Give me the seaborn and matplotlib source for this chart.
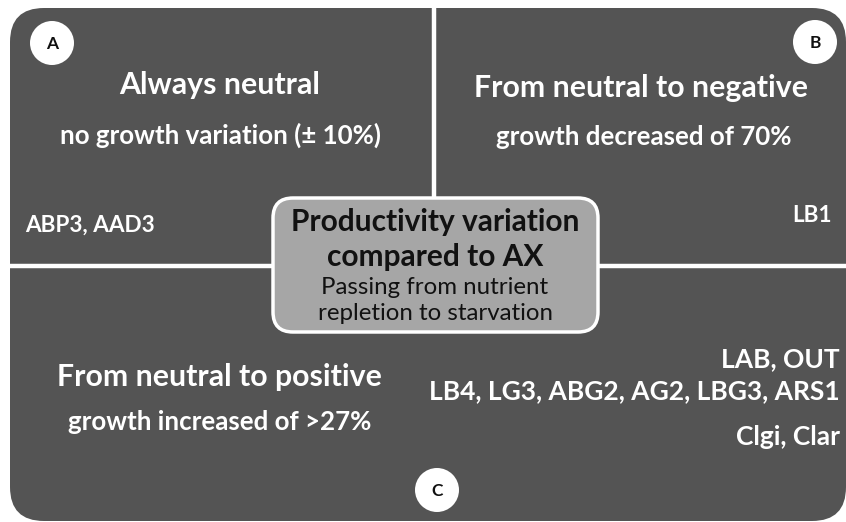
import matplotlib
matplotlib.use('Agg')
import matplotlib.pyplot as plt
from matplotlib.patches import FancyBboxPatch, Circle
import seaborn as sns

sns.set_theme(style='white')
plt.rcParams['font.family'] = ['Lato', 'DejaVu Sans']

# Quadrant content
panel_labels = ['A', 'B', 'C']
panel_titles = ['Always neutral', 'From neutral to negative', 'From neutral to positive']
panel_subtitles = ['no growth variation (\u00b1 10%)', 'growth decreased of 70%',
                   'growth increased of >27%']
strains_a = ['ABP3, AAD3']
strains_b = ['LB1']
strains_c = ['LAB, OUT', 'LB4, LG3, ABG2, AG2, LBG3, ARS1', 'Clgi, Clar']
center_title = ['Productivity variation', 'compared to AX']
center_sub = ['Passing from nutrient', 'repletion to starvation']

dark = '#545454'
grey = '#a6a6a6'

fig = plt.figure(figsize=(8.46, 5.22), dpi=100)
ax = fig.add_axes([0, 0, 1, 1])
ax.set_xlim(0, 846)
ax.set_ylim(522, 0)
ax.axis('off')

# background panel with rounded outer corners
ax.add_patch(FancyBboxPatch((10, 8), 836, 513, boxstyle='round,pad=0,rounding_size=34',
                            facecolor=dark, edgecolor='none', zorder=1))
# white separators
ax.plot([434, 434], [0, 266], color='white', lw=3.2, solid_capstyle='butt', zorder=2)
ax.plot([0, 846], [266, 266], color='white', lw=3.2, solid_capstyle='butt', zorder=2)

# central box
ax.add_patch(FancyBboxPatch((273, 198), 325, 134, boxstyle='round,pad=0,rounding_size=20',
                            facecolor=grey, edgecolor='white', lw=2.5, zorder=3))

# label circles
for lab, (cx, cy) in zip(panel_labels, [(52, 43), (815, 42), (437, 490)]):
    ax.add_patch(Circle((cx, cy), 22, facecolor='white', edgecolor='none', zorder=3))
    ax.text(cx, cy + 1, lab, ha='center', va='center', fontsize=12.5,
            fontweight='bold', color='#111111', zorder=4)

# titles and subtitles
title_pos = [(220, 85), (641, 88), (219, 377)]
sub_pos = [(221, 135), (644, 137), (220, 422)]
for t, s, tp, sp in zip(panel_titles, panel_subtitles, title_pos, sub_pos):
    ax.text(*tp, t, ha='center', va='center', fontsize=21.8, fontweight='bold',
            color='white', zorder=4)
    ax.text(*sp, s, ha='center', va='center', fontsize=18.6, fontweight='bold',
            color='white', zorder=4)

# strain lists
ax.text(25, 225, strains_a[0], ha='left', va='center', fontsize=16.2,
        fontweight='bold', color='white', zorder=4)
ax.text(832, 216, strains_b[0], ha='right', va='center', fontsize=16.2,
        fontweight='bold', color='white', zorder=4)
for line, y in zip(strains_c, [359, 391, 437]):
    ax.text(840, y, line, ha='right', va='center', fontsize=19,
            fontweight='bold', color='white', zorder=4)

# central text
for line, y in zip(center_title, [222, 257]):
    ax.text(435, y, line, ha='center', va='center', fontsize=21.5, fontweight='bold',
            color='#111111', zorder=4)
for line, y in zip(center_sub, [287, 313]):
    ax.text(435, y, line, ha='center', va='center', fontsize=17.3, color='#111111',
            zorder=4)

plt.savefig('out.png', dpi=100)
plt.close()
